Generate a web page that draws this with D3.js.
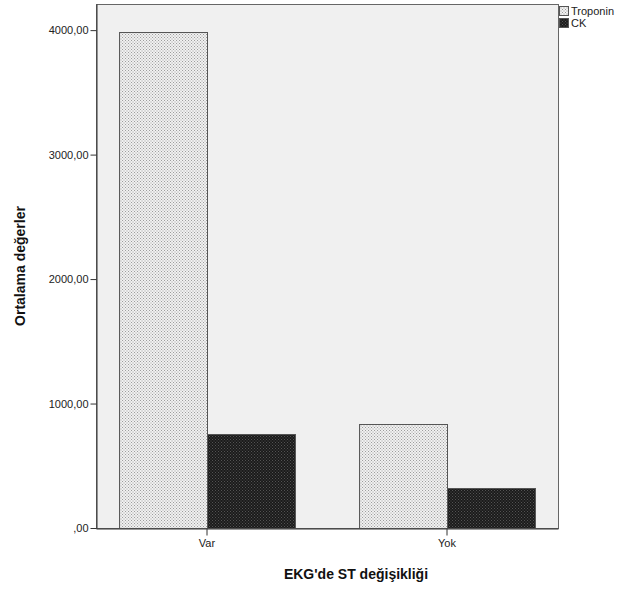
<!DOCTYPE html>
<html>
<head>
<meta charset="utf-8">
<script src="https://cdn.jsdelivr.net/npm/d3@7"></script>
<style>
  body { margin: 0; background: #fff; }
  svg { font-family: "Liberation Sans", Arial, sans-serif; }
</style>
</head>
<body>
<svg width="625" height="589"></svg>
<script>
var groups = ["Var", "Yok"];
var series = ["Troponin", "CK"];
var troponin = [3985, 835];
var ck = [758, 322];
var yTicks = [0, 1000, 2000, 3000, 4000];

var svg = d3.select("svg"),
width = +svg.attr("width"),
height = +svg.attr("height");

var margin = {top: 4, right: 67, bottom: 61, left: 96};
var plotW = width - margin.left - margin.right,
plotH = height - margin.top - margin.bottom;

// dotted fills like the SPSS output
var defs = svg.append("defs");
function dotPattern(id, base, dot) {
  var p = defs.append("pattern").attr("id", id)
    .attr("width", 3).attr("height", 3)
    .attr("patternUnits", "userSpaceOnUse");
  p.append("rect").attr("width", 3).attr("height", 3).attr("fill", base);
  p.append("rect").attr("x", 0).attr("y", 0).attr("width", 1).attr("height", 1).attr("fill", dot);
  p.append("rect").attr("x", 1.5).attr("y", 1.5).attr("width", 1).attr("height", 1).attr("fill", dot);
}
dotPattern("patTrop", "#f2f2f2", "#999");
dotPattern("patCk", "#1a1a1a", "#555");
var fills = {"Troponin": "url(#patTrop)", "CK": "url(#patCk)"};

var g = svg.append("g").attr("transform", "translate(" + margin.left + "," + margin.top + ")");

var x = d3.scaleBand().domain(groups).range([0, plotW])
  .paddingInner(0.267).paddingOuter(0.096);
var xs = d3.scaleBand().domain(series).range([0, x.bandwidth()]);
var y = d3.scaleLinear().domain([0, 4210]).range([plotH, 0]);

g.append("rect")
  .attr("width", plotW).attr("height", plotH)
  .attr("fill", "#f0f0f0");

var data = groups.map(function(d, i) {
  return {group: d, values: [{key: "Troponin", value: troponin[i]}, {key: "CK", value: ck[i]}]};
});

var grp = g.selectAll(".grp").data(data).enter().append("g")
  .attr("transform", function(d) { return "translate(" + x(d.group) + ",0)"; });

grp.selectAll("rect").data(function(d) { return d.values; }).enter().append("rect")
  .attr("x", function(d) { return xs(d.key) + 0.5; })
  .attr("y", function(d) { return Math.round(y(d.value)) + 0.5; })
  .attr("width", xs.bandwidth())
  .attr("height", function(d) { return plotH - Math.round(y(d.value)); })
  .attr("fill", function(d) { return fills[d.key]; })
  .attr("stroke", "#555")
  .attr("stroke-width", 1);

// frame
g.append("rect")
  .attr("x", 0.5).attr("y", 0.5)
  .attr("width", plotW).attr("height", plotH)
  .attr("fill", "none").attr("stroke", "#666").attr("stroke-width", 1);

var fmt = d3.formatLocale({decimal: ",", thousands: "", grouping: [3], currency: ["", ""]}).format(".2f");

var yAxis = g.append("g").attr("transform", "translate(0.5,0)")
  .call(d3.axisLeft(y).tickValues(yTicks).tickSizeInner(6).tickSizeOuter(0).tickPadding(2)
    .tickFormat(function(d) { return d === 0 ? ",00" : fmt(d); }));
var xAxis = g.append("g").attr("transform", "translate(0," + (plotH + 0.5) + ")")
  .call(d3.axisBottom(x).tickSizeInner(7).tickSizeOuter(0).tickPadding(4));

[yAxis, xAxis].forEach(function(a) {
  a.select(".domain").attr("stroke", "#333");
  a.selectAll(".tick line").attr("stroke", "#333");
  a.selectAll(".tick text").attr("fill", "#222")
    .style("font-family", "'Liberation Sans', Arial, sans-serif").style("font-size", "11px");
});

svg.append("text")
  .attr("x", margin.left + plotW / 2 + 29)
  .attr("y", 579)
  .attr("text-anchor", "middle")
  .attr("font-size", "14px").attr("font-weight", "bold").attr("fill", "#111")
  .text("EKG'de ST değişikliği");

svg.append("text")
  .attr("transform", "translate(25," + (margin.top + plotH / 2) + ") rotate(-90)")
  .attr("text-anchor", "middle")
  .attr("font-size", "14px").attr("font-weight", "bold").attr("fill", "#111")
  .text("Ortalama değerler");

// legend
var leg = svg.append("g").attr("transform", "translate(559,6)");
var li = leg.selectAll("g").data(series).enter().append("g")
  .attr("transform", function(d, i) { return "translate(0," + (i * 12) + ")"; });
li.append("rect").attr("x", 0.5).attr("y", 0.5).attr("width", 9).attr("height", 9)
  .attr("fill", function(d) { return fills[d]; }).attr("stroke", "#555");
li.append("text").attr("x", 12).attr("y", 9)
  .attr("font-size", "11px").attr("fill", "#222")
  .text(function(d) { return d; });
</script>
</body>
</html>
